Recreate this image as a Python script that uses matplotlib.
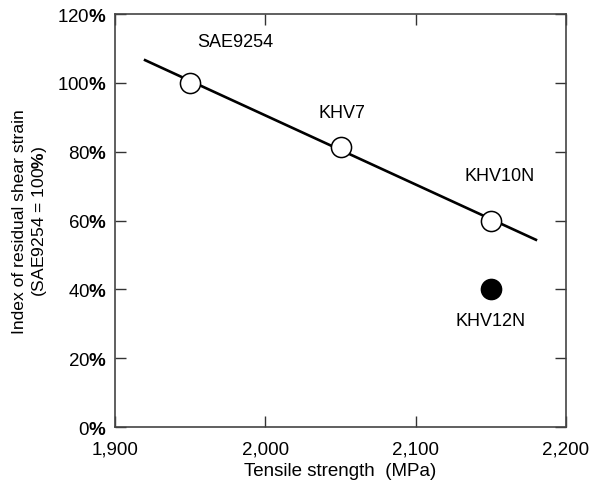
import matplotlib
matplotlib.use("Agg")
import matplotlib.pyplot as plt
from matplotlib.ticker import FuncFormatter

plt.rcParams['font.family'] = ['Liberation Sans', 'DejaVu Sans']
plt.rcParams['mathtext.fontset'] = 'custom'
plt.rcParams['mathtext.rm'] = 'Liberation Sans'
plt.rcParams['mathtext.bf'] = 'Liberation Sans:bold'

# data
steels = ["SAE9254", "KHV7", "KHV10N", "KHV12N"]
strength = [1950, 2050, 2150, 2150]
strain_index = [100, 81.5, 60, 40]
filled = [False, False, False, True]
label_pos = [(1980, 112), (2051, 91.5), (2156, 73), (2150, 31)]

trend_x = [1920, 2180]
trend_y = [106.6, 54.4]

fig = plt.figure(figsize=(5.91, 4.85), dpi=100)
ax = fig.add_axes([0.1946, 0.1175, 0.7631, 0.8515])

ax.plot(trend_x, trend_y, color='black', lw=1.9, zorder=2)
for x, y, f in zip(strength, strain_index, filled):
    ax.plot(x, y, 'o', ms=14.5, mfc='black' if f else 'white',
            mec='black', mew=1.1, zorder=3)
for name, (lx, ly) in zip(steels, label_pos):
    ax.text(lx, ly, name, ha='center', va='center', fontsize=13)

ax.set_xlim(1900, 2200)
ax.set_ylim(0, 120)
ax.set_xticks([1900, 2000, 2100, 2200])
ax.set_yticks(range(0, 121, 20))
ax.xaxis.set_major_formatter(FuncFormatter(lambda v, p: f"{int(v):,}"))
ax.yaxis.set_major_formatter(FuncFormatter(lambda v, p: f"{int(v)}" + r"$\mathbf{\%}$"))
ax.tick_params(direction='in', length=8, width=1, color='#333333',
               top=True, right=True, labelsize=13.5)
ax.tick_params(axis='x', pad=10)
ax.tick_params(axis='y', pad=6)
for s in ax.spines.values():
    s.set_color('#444444')
    s.set_linewidth(1.2)

ax.set_xlabel("Tensile strength  (MPa)", fontsize=13.5, labelpad=3)
ax.set_ylabel("Index of residual shear strain\n(SAE9254 = 100" + r"$\mathbf{\%}$" + ")",
              fontsize=12.6, labelpad=6)

fig.savefig("out.png", dpi=100)
